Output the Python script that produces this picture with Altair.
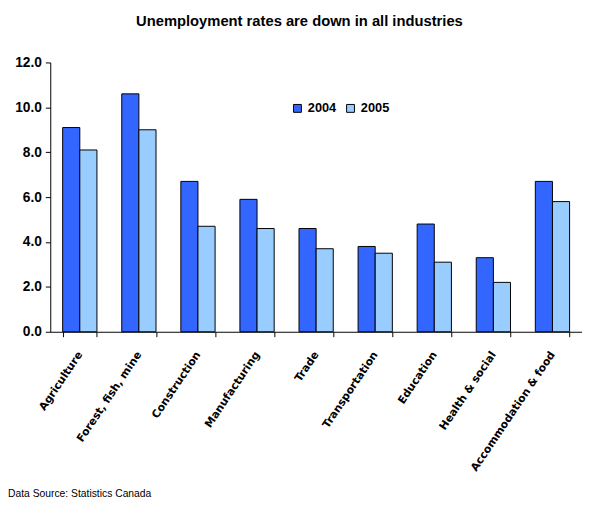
import altair as alt
import pandas as pd

categories = ["Agriculture", "Forest, fish, mine", "Construction", "Manufacturing",
              "Trade", "Transportation", "Education", "Health & social",
              "Accommodation & food"]
rates_2004 = [9.1, 10.6, 6.7, 5.9, 4.6, 3.8, 4.8, 3.3, 6.7]
rates_2005 = [8.1, 9.0, 4.7, 4.6, 3.7, 3.5, 3.1, 2.2, 5.8]
years = ["2004", "2005"]
colors = ["#3366FF", "#99CCFF"]
title_text = "Unemployment rates are down in all industries"
source_text = "Data Source: Statistics Canada"

rows = []
for c, a, b in zip(categories, rates_2004, rates_2005):
    rows.append({"industry": c, "year": years[0], "rate": a})
    rows.append({"industry": c, "year": years[1], "rate": b})
df = pd.DataFrame(rows)

SANS = "Liberation Sans"

bars = alt.Chart(df).mark_bar(stroke="black", strokeWidth=1).encode(
    x=alt.X("industry:N", sort=categories,
            scale=alt.Scale(paddingInner=0.42, paddingOuter=0.21),
            axis=alt.Axis(title=None, labelAngle=-56, labelAlign="right",
                          labelBaseline="middle", labelPadding=16,
                          labelFont="DejaVu Sans", labelFontWeight="bold",
                          labelFontSize=11, labelColor="black",
                          domainColor="black", tickColor="black", tickSize=5,
                          tickBand="extent", grid=False, labelOverlap=False)),
    xOffset=alt.XOffset("year:N", scale=alt.Scale(paddingInner=0, paddingOuter=0)),
    y=alt.Y("rate:Q", scale=alt.Scale(domain=[0, 12], nice=False),
            axis=alt.Axis(title=None, values=[0, 2, 4, 6, 8, 10, 12], format=".1f",
                          labelFont=SANS, labelFontWeight="bold", labelFontSize=14,
                          labelColor="black", labelPadding=4,
                          domainColor="black", tickColor="black", tickSize=5,
                          grid=False)),
    color=alt.Color("year:N", scale=alt.Scale(domain=years, range=colors),
                    legend=alt.Legend(title=None, orient="none", legendX=245, legendY=40,
                                      direction="horizontal", symbolType="square",
                                      symbolSize=64, symbolStrokeColor="black",
                                      symbolStrokeWidth=1, labelFont=SANS,
                                      labelFontWeight="bold", labelFontSize=13,
                                      labelColor="black", labelOffset=4,
                                      columnPadding=8, symbolOpacity=1)),
)

footer = alt.Chart(pd.DataFrame({"t": [source_text]})).mark_text(
    align="left", baseline="middle", font=SANS, fontSize=10.5, color="black"
).encode(text="t:N", x=alt.value(-43), y=alt.value(439))

chart = alt.layer(bars, footer).properties(
    width=541, height=274,
    title=alt.TitleParams(title_text, font=SANS, fontSize=15, fontWeight="bold",
                          color="black", anchor="middle", dx=-17, offset=27),
    padding={"left": 43, "top": 51, "right": 0, "bottom": 180},
    autosize=alt.AutoSizeParams(type="none"),
).configure_view(stroke=None)

chart.save("out.html", embed_options={"renderer": "svg", "actions": False})
